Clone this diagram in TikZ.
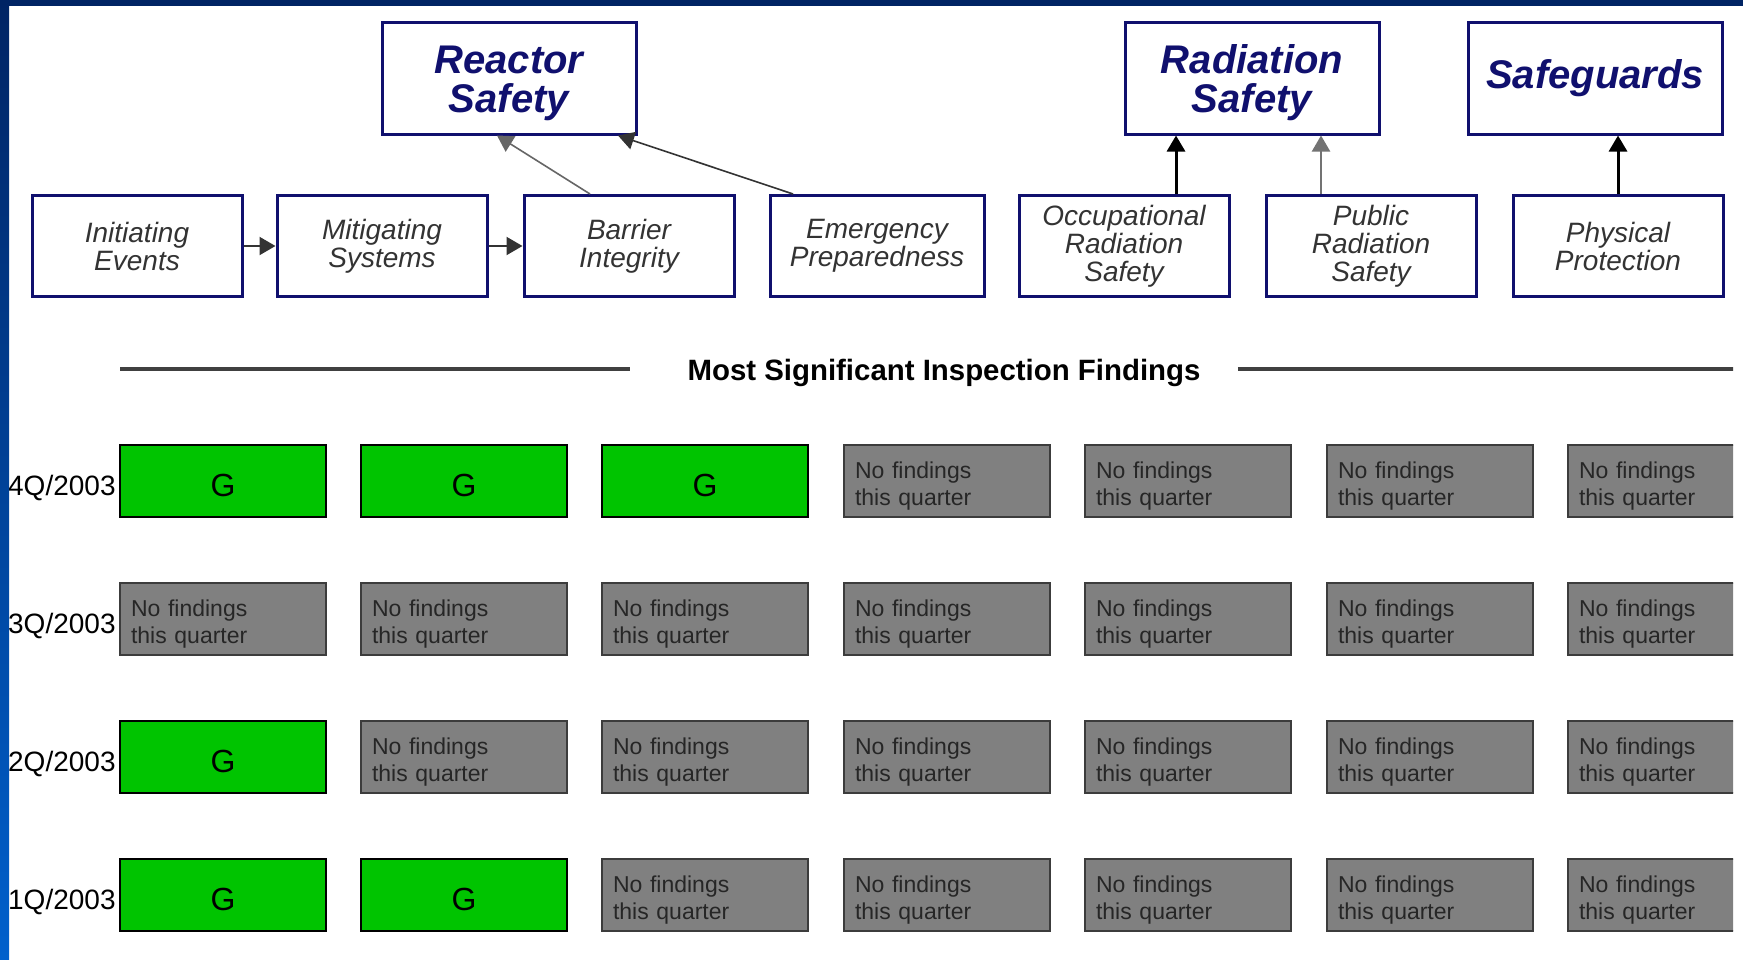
\documentclass[tikz,border=0pt]{standalone}
\usepackage{fontspec}
\setmainfont{Liberation Sans}
\usetikzlibrary{arrows.meta}
\definecolor{navyblue}{RGB}{16,16,110}
\definecolor{findgreen}{RGB}{0,196,0}
\definecolor{findgray}{RGB}{128,128,128}
\definecolor{boxedge}{RGB}{60,60,60}
\definecolor{topstrip}{RGB}{0,36,100}
\tikzset{
  pillar/.style={draw=navyblue, line width=1.5pt, minimum width=127pt, minimum height=56pt, align=center, text=navyblue, font=\fontsize{20}{19.5}\selectfont\bfseries\itshape},
  twoline/.style={text width=113pt, execute at begin node={\rule{0pt}{19pt}}},
  area/.style={draw=navyblue, line width=1.5pt, minimum width=105pt, minimum height=50.5pt, align=center, text=black!80, font=\fontsize{14}{14}\selectfont\itshape},
  hit/.style={draw=black, line width=1.3pt, fill=findgreen, minimum width=103pt, minimum height=36pt, text height=15pt, text depth=0pt, font=\fontsize{16}{16}\selectfont},
  nohit/.style={draw=boxedge, line width=1.3pt, fill=findgray, minimum height=36pt, text width=92pt, inner xsep=5.5pt, align=left, text=black!85, font=\fontsize{11.5}{13.3}\selectfont, execute at begin node={\rule{0pt}{13.2pt}}},
  quarter/.style={anchor=east, inner sep=0pt, font=\fontsize{14}{14}\selectfont},
  feed/.style={-{Triangle[length=8pt,width=9pt]}},
  rule/.style={line width=1.6pt, black!75}
}
\begin{document}
\begin{tikzpicture}[x=0.5pt,y=-0.5pt]
\useasboundingbox (0,0) rectangle (1743,959);
\fill[white] (0,0) rectangle (1743,959);

\begin{scope}
\clip (9,6) rectangle (1733,959);
% cornerstones
\node [pillar, twoline] (rs) at (509,78) {Reactor\\Safety};
\node [pillar, twoline] (rd) at (1252,78) {Radiation\\Safety};
\node [pillar] (sg) at (1595,78) {Safeguards};

\node [area] (ie) at (137,246) {Initiating\\Events};
\node [area] (ms) at (382,246) {Mitigating\\Systems};
\node [area] (bi) at (629,246) {Barrier\\Integrity};
\node [area, minimum width=107pt] (ep) at (877,246) {Emergency\\Preparedness};
\node [area] (ors) at (1124,246) {Occupational\\Radiation\\Safety};
\node [area] (prs) at (1371,246) {Public\\Radiation\\Safety};
\node [area] (pp) at (1618,246) {Physical\\Protection};

\draw [feed, line width=1pt, black!80] (ie) -- (ms);
\draw [feed, line width=1pt, black!80] (ms) -- (bi);
\draw [feed, line width=0.8pt, black!60] ([xshift=-19.5pt]bi.north) -- ([xshift=-6pt]rs.south);
\draw [feed, line width=0.8pt, black!80] ([xshift=-42pt]ep.north) -- ([xshift=54.5pt]rs.south);
\draw [feed, line width=1.5pt] ([xshift=26pt]ors.north) -- ([xshift=26pt]ors.north |- rd.south);
\draw [feed, line width=1.1pt, black!55] ([xshift=-25pt]prs.north) -- ([xshift=-25pt]prs.north |- rd.south);
\draw [feed, line width=1.5pt] (pp) -- (pp |- sg.south);

% findings header
\node [inner xsep=28.5pt, font=\fontsize{14.7}{15}\selectfont\bfseries] (head) at (944,373) {Most Significant Inspection Findings};
\coordinate (hl) at (120,369);
\coordinate (hr) at (1745,369);
\draw [rule] (hl) -- (hl -| head.west);
\draw [rule] ([xshift=-10pt]hr -| head.east) -- (hr);

% 4Q/2003
\node [quarter] (q4) at (116,488) {4Q/2003};
\node [hit] (c41) at (223,481) {G};
\node [hit] (c42) at (464,481) {G};
\node [hit] (c43) at (705,481) {G};
\node [nohit] (c44) at (947,481) {No findings\\this quarter};
\node [nohit] (c45) at (1188,481) {No findings\\this quarter};
\node [nohit] (c46) at (1430,481) {No findings\\this quarter};
\node [nohit] (c47) at (1671,481) {No findings\\this quarter};

% 3Q/2003
\node [quarter] (q3) at (116,626) {3Q/2003};
\node [nohit] (c31) at (223,619) {No findings\\this quarter};
\node [nohit] (c32) at (464,619) {No findings\\this quarter};
\node [nohit] (c33) at (705,619) {No findings\\this quarter};
\node [nohit] (c34) at (947,619) {No findings\\this quarter};
\node [nohit] (c35) at (1188,619) {No findings\\this quarter};
\node [nohit] (c36) at (1430,619) {No findings\\this quarter};
\node [nohit] (c37) at (1671,619) {No findings\\this quarter};

% 2Q/2003
\node [quarter] (q2) at (116,764) {2Q/2003};
\node [hit] (c21) at (223,757) {G};
\node [nohit] (c22) at (464,757) {No findings\\this quarter};
\node [nohit] (c23) at (705,757) {No findings\\this quarter};
\node [nohit] (c24) at (947,757) {No findings\\this quarter};
\node [nohit] (c25) at (1188,757) {No findings\\this quarter};
\node [nohit] (c26) at (1430,757) {No findings\\this quarter};
\node [nohit] (c27) at (1671,757) {No findings\\this quarter};

% 1Q/2003
\node [quarter] (q1) at (116,902) {1Q/2003};
\node [hit] (c11) at (223,895) {G};
\node [hit] (c12) at (464,895) {G};
\node [nohit] (c13) at (705,895) {No findings\\this quarter};
\node [nohit] (c14) at (947,895) {No findings\\this quarter};
\node [nohit] (c15) at (1188,895) {No findings\\this quarter};
\node [nohit] (c16) at (1430,895) {No findings\\this quarter};
\node [nohit] (c17) at (1671,895) {No findings\\this quarter};
\end{scope}

% slide frame
\fill [topstrip] (0,0) rectangle (1743,6);
\shade [top color=topstrip, bottom color={rgb,255:red,0;green,96;blue,204}] (0,0) rectangle (9,959);
\end{tikzpicture}
\end{document}
